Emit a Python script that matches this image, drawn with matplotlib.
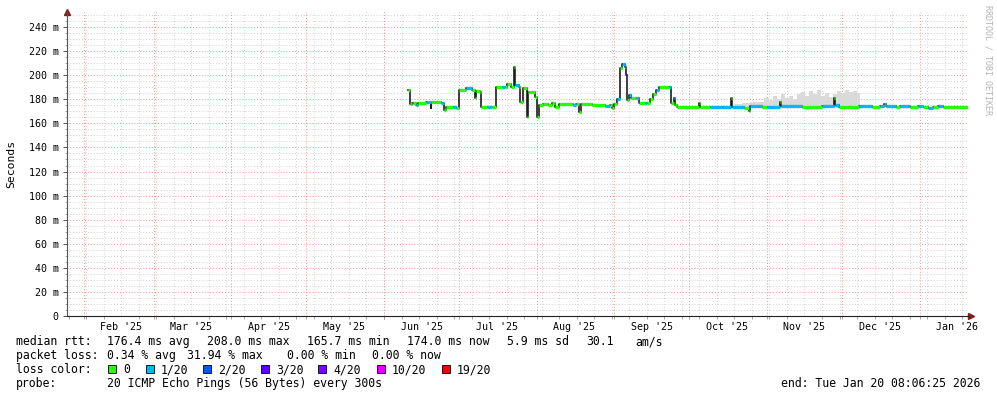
import matplotlib
matplotlib.use("Agg")
import matplotlib.pyplot as plt
import matplotlib.dates as mdates
from matplotlib.patches import Rectangle
import numpy as np
import pandas as pd

W, H = 997, 397

# median rtt in ms, as steps (start of step, value, lost pings out of 20)
med_time = [
    "2025-06-10 18:00", "2025-06-11 13:00", "2025-06-12 09:00", "2025-06-12 18:00",
    "2025-06-13 23:00", "2025-06-14 18:00", "2025-06-17 23:00", "2025-06-19 14:00",
    "2025-06-19 23:00", "2025-06-23 23:00", "2025-06-24 18:00", "2025-06-25 04:00",
    "2025-06-25 23:00", "2025-06-28 09:00", "2025-06-29 14:00", "2025-06-30 19:00",
    "2025-07-03 23:00", "2025-07-05 23:00", "2025-07-07 04:00", "2025-07-07 14:00",
    "2025-07-09 04:00", "2025-07-09 14:00", "2025-07-11 23:00", "2025-07-13 23:00",
    "2025-07-15 14:00", "2025-07-18 00:00", "2025-07-19 05:00", "2025-07-20 00:00",
    "2025-07-21 14:00", "2025-07-22 19:00", "2025-07-23 05:00", "2025-07-24 19:00",
    "2025-07-25 05:00", "2025-07-26 10:00", "2025-07-28 00:00", "2025-07-28 10:00",
    "2025-07-31 05:00", "2025-08-01 00:00", "2025-08-01 20:00", "2025-08-03 10:00",
    "2025-08-05 10:00", "2025-08-07 00:00", "2025-08-08 05:00", "2025-08-09 20:00",
    "2025-08-15 10:00", "2025-08-16 15:00", "2025-08-17 20:00", "2025-08-18 15:00",
    "2025-08-23 01:00", "2025-08-28 06:00", "2025-08-30 06:00", "2025-08-31 01:00",
    "2025-08-31 20:00", "2025-09-02 01:00", "2025-09-03 06:00", "2025-09-04 01:00",
    "2025-09-05 06:00", "2025-09-05 16:00", "2025-09-06 01:00", "2025-09-06 21:00",
    "2025-09-07 16:00", "2025-09-09 16:00", "2025-09-10 21:00", "2025-09-13 06:00",
    "2025-09-14 02:00", "2025-09-15 06:00", "2025-09-16 11:00", "2025-09-17 16:00",
    "2025-09-18 21:00", "2025-09-22 21:00", "2025-09-23 16:00", "2025-09-24 21:00",
    "2025-09-25 07:00", "2025-09-26 02:00", "2025-10-04 22:00", "2025-10-05 07:00",
    "2025-10-09 07:00", "2025-10-14 03:00", "2025-10-17 17:00", "2025-10-18 03:00",
    "2025-10-22 22:00", "2025-10-24 22:00", "2025-10-25 08:00", "2025-10-30 03:00",
    "2025-11-01 03:00", "2025-11-06 08:00", "2025-11-06 18:00", "2025-11-15 03:00",
    "2025-11-23 04:00", "2025-11-27 23:00", "2025-11-28 09:00", "2025-11-29 23:00",
    "2025-12-07 23:00", "2025-12-13 04:00", "2025-12-16 09:00", "2025-12-17 14:00",
    "2025-12-18 09:00", "2025-12-22 09:00", "2025-12-24 00:00", "2025-12-28 00:00",
    "2025-12-31 05:00", "2026-01-02 05:00", "2026-01-04 05:00", "2026-01-06 05:00",
    "2026-01-08 05:00", "2026-01-10 05:00",
]
med_ms = [
    188.0, 176.0, 177.0, 177.0, 175.0, 177.0, 178.0, 173.0,
    177.5, 177.0, 177.0, 171.0, 174.0, 174.0, 173.0, 187.5,
    189.0, 188.0, 181.0, 187.0, 186.0, 174.0, 173.5, 174.0,
    190.5, 190.5, 190.0, 193.0, 190.0, 207.0, 192.0, 190.0,
    178.0, 189.0, 165.5, 186.0, 182.0, 165.5, 175.0, 176.5,
    175.0, 177.0, 174.0, 176.0, 175.0, 176.0, 169.7, 176.0,
    175.5, 174.5, 175.0, 172.5, 176.0, 180.0, 205.7, 209.0,
    207.0, 200.0, 179.4, 183.5, 181.0, 180.8, 176.6, 176.6,
    176.6, 180.0, 184.0, 187.7, 190.0, 190.0, 176.6, 181.0,
    175.0, 174.0, 177.0, 174.0, 174.0, 173.5, 181.0, 174.0,
    173.0, 170.6, 174.4, 174.0, 174.0, 178.0, 174.4, 174.0,
    174.5, 181.0, 175.0, 174.0, 174.5, 174.0, 174.5, 176.0,
    174.5, 174.0, 174.5, 174.0, 174.5, 174.0, 172.5, 174.0,
    174.5, 174.0,
]
med_loss = [
    0, 0, 10, 0, 1, 0, 1, 0,
    0, 1, 0, 0, 0, 1, 0, 0,
    1, 0, 0, 0, 0, 0, 1, 0,
    0, 1, 0, 0, 0, 0, 1, 0,
    0, 0, 0, 0, 0, 0, 0, 0,
    0, 0, 0, 0, 1, 0, 0, 0,
    0, 1, 0, 0, 0, 1, 0, 1,
    1, 3, 0, 1, 0, 1, 0, 1,
    0, 0, 0, 1, 0, 1, 0, 1,
    0, 0, 0, 0, 1, 1, 0, 1,
    0, 0, 1, 0, 1, 0, 1, 0,
    1, 0, 1, 0, 1, 0, 1, 1,
    1, 0, 1, 0, 1, 0, 1, 0,
    1, 0,
]

# grey "smoke" (spread of the pings) above the median, Oct-Dec
smoke_time = [
    "2025-10-18 22:00", "2025-10-22 03:00", "2025-10-25 08:00", "2025-10-28 03:00",
    "2025-10-30 22:00", "2025-11-01 22:00", "2025-11-03 13:00", "2025-11-05 03:00",
    "2025-11-06 18:00", "2025-11-08 08:00", "2025-11-09 23:00", "2025-11-11 13:00",
    "2025-11-13 03:00", "2025-11-14 18:00", "2025-11-16 08:00", "2025-11-17 23:00",
    "2025-11-19 13:00", "2025-11-21 04:00", "2025-11-22 18:00", "2025-11-24 09:00",
    "2025-11-25 23:00", "2025-11-27 13:00", "2025-11-29 04:00", "2025-11-30 18:00",
    "2025-12-02 09:00", "2025-12-03 23:00", "2025-12-05 14:00", "2025-12-07 04:00",
]
smoke_top = [
    176.5, 177.0, 177.5, 178.0, 181.0, 179.0, 183.0, 180.0,
    184.0, 181.0, 183.0, 180.0, 184.0, 186.0, 183.0, 187.0,
    184.0, 188.0, 183.0, 185.0, 182.0, 184.0, 187.0, 185.0,
    188.0, 186.0, 187.0, 185.0,
]
smoke_end = "2025-12-08 09:00"
smoke_floor = 172.5

loss_labels = ["0", "1/20", "2/20", "3/20", "4/20", "10/20", "19/20"]
loss_counts = [0, 1, 2, 3, 4, 10, 19]
loss_colors = ["#26ff00", "#00b8ff", "#0059ff", "#5e00ff", "#7e00ff", "#dd00ff", "#ff0000"]

stats_rtt = ["176.4 ms avg", "208.0 ms max", "165.7 ms min", "174.0 ms now", "5.9 ms sd", "30.1", "am/s"]
stats_loss = ["0.34 % avg", "31.94 % max", "0.00 % min", "0.00 % now"]

end = pd.Timestamp("2026-01-20 08:06:25")
start = end - pd.Timedelta(days=360)


def num(ts):
    return mdates.date2num(pd.to_datetime(ts).to_pydatetime())


def loss_color(n):
    c = loss_colors[0]
    for cnt, col in zip(loss_counts, loss_colors):
        if n >= cnt:
            c = col
    return c


def fx(x):
    return x / W


def fy(y):
    return 1 - y / H


plt.rcParams["font.family"] = "DejaVu Sans Mono"

fig = plt.figure(figsize=(W / 100, H / 100), dpi=100)
fig.patch.set_facecolor("white")
ax = fig.add_axes([67 / W, 81 / H, 901 / W, 304 / H])
ax.set_xlim(num(start), num(end))
ax.set_ylim(0, 252.5)

# grid
dots = (0, (1, 2))
for v in range(5, 251, 5):
    col = "#e89494" if v % 20 == 0 else "#d2d2d2"
    ax.axhline(v, color=col, lw=0.7, ls=dots, zorder=0)
months = pd.date_range("2025-02-01", "2026-01-01", freq="MS")
weeks = pd.date_range(start, end, freq="W-SUN").normalize()
for w in weeks:
    ax.axvline(num(w), color="#d2d2d2", lw=0.7, ls=dots, zorder=0)
for m in months:
    ax.axvline(num(m), color="#e89494", lw=0.7, ls=dots, zorder=0)

# smoke
st = np.append(num(smoke_time), num(smoke_end))
sv = np.append(smoke_top, smoke_top[-1])
ax.fill_between(st, smoke_floor, sv, step="post", color="#dadada", lw=0, zorder=1)

# median line: dark steps plus loss coloured segments
t = np.append(num(med_time), num(end))
v = np.array(med_ms)
ax.step(t, np.append(v, v[-1]), where="post", color="#1c1c1c", lw=1.2, zorder=2)
ax.hlines(v, t[:-1], t[1:], colors=[loss_color(n) for n in med_loss],
          lw=2.4, zorder=3, capstyle="butt")

# axes
for s in ["top", "right"]:
    ax.spines[s].set_visible(False)
ax.spines["left"].set_color("#555555")
ax.spines["bottom"].set_color("#222222")
ax.spines["left"].set_linewidth(0.8)
ax.spines["bottom"].set_linewidth(0.8)
ax.plot([0], [1.0], marker="^", ms=5, color="#7f1d1d", transform=ax.transAxes, clip_on=False)
ax.plot([1.003], [0], marker=">", ms=5, color="#7f1d1d", transform=ax.transAxes, clip_on=False)

yt = list(range(0, 241, 20))
ax.set_yticks(yt)
ax.set_yticklabels([f"{y} m" if y else "0" for y in yt])
ax.set_yticks(range(0, 251, 5), minor=True)
ax.tick_params(axis="y", which="major", length=3, width=0.7, color="#555555",
               pad=3, labelsize=7.2)
ax.tick_params(axis="y", which="minor", length=1.5, width=0.6, color="#999999")

label_pos = months + pd.Timedelta(days=15)
ax.set_xticks(num(label_pos))
ax.set_xticklabels([d.strftime("%b '%y") for d in months])
ax.set_xticks(np.concatenate([num(weeks), num(months)]), minor=True)
ax.tick_params(axis="x", which="major", length=0, pad=4, labelsize=7.2)
ax.tick_params(axis="x", which="minor", length=2.5, width=0.6, color="#999999")

fig.text(fx(10.8), fy(164), "Seconds", rotation=90, ha="center", va="center", fontsize=8.2)
fig.text(fx(988), fy(60), "RRDTOOL / TOBI OETIKER", rotation=270, ha="center",
         va="center", fontsize=6, color="#b4b4b4")

# legend block
fs = 8.3
rows = [345.3, 359.3, 373.3, 387.0]
fig.text(fx(16), fy(rows[0]), "median rtt:", fontsize=fs, va="baseline")
for x, s in zip([107, 207, 307.3, 406.7, 506.7, 586, 635], stats_rtt):
    fig.text(fx(x), fy(rows[0]), s, fontsize=fs, va="baseline")
fig.text(fx(16), fy(rows[1]), "packet loss:", fontsize=fs, va="baseline")
for x, s in zip([107.3, 186.7, 286.7, 372.3], stats_loss):
    fig.text(fx(x), fy(rows[1]), s, fontsize=fs, va="baseline")
fig.text(fx(16), fy(rows[2]), "loss color:", fontsize=fs, va="baseline")
box_x = [108.3, 145.7, 203.3, 261, 318.3, 376.7, 441.7]
lab_x = [123.3, 160.7, 218.3, 276, 333.3, 391.7, 456.7]
for bx, lx, lab, col in zip(box_x, lab_x, loss_labels, loss_colors):
    fig.add_artist(Rectangle((fx(bx), fy(373)), 8 / W, 8 / H, transform=fig.transFigure,
                             facecolor=col, edgecolor="black", lw=0.6))
    fig.text(fx(lx), fy(rows[2]), lab, fontsize=fs, va="baseline")
fig.text(fx(16), fy(rows[3]), "probe:", fontsize=fs, va="baseline")
fig.text(fx(107.3), fy(rows[3]), "20 ICMP Echo Pings (56 Bytes) every 300s", fontsize=fs, va="baseline")
fig.text(fx(980.5), fy(rows[3]), "end: Tue Jan 20 08:06:25 2026", fontsize=fs,
         va="baseline", ha="right")

fig.savefig("out.png", dpi=100)
